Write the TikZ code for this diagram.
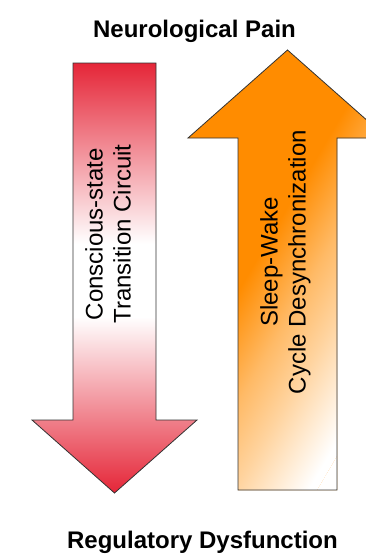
\documentclass[tikz,border=0pt]{standalone}
\usepackage{fontspec}
\setmainfont{Liberation Sans}
\definecolor{rc}{RGB}{229,38,56}
\definecolor{oc}{RGB}{255,140,0}
\colorlet{oca}{oc!60!white}
\colorlet{ocb}{oc!38!white}
\pgfdeclareverticalshading{redax}{100bp}{color(0bp)=(rc); color(25bp)=(rc); color(45.5bp)=(white); color(54bp)=(white); color(75bp)=(rc); color(100bp)=(rc)}
\pgfdeclarehorizontalshading{ofade}{100bp}{color(0bp)=(oc); color(25bp)=(oc); color(30bp)=(oc); color(45bp)=(oca); color(56bp)=(ocb); color(73bp)=(white); color(100bp)=(white)}
\tikzset{
  heading/.style={font=\fontsize{24}{28}\selectfont\bfseries, anchor=base, inner sep=0pt},
  lbl/.style={font=\fontsize{24}{28}\selectfont, align=center, inner sep=0pt, rotate=90},
  outline/.style={draw=black!80, line width=0.8pt, line join=miter}
}
\begin{document}
\begin{tikzpicture}[x=1pt, y=1pt]
\useasboundingbox (0,0) rectangle (366,-554);
\clip (0,0) rectangle (366,-554);
% red down arrow
\shadedraw[shading=redax, outline] (73,-63) -- (156,-63) -- (156,-420) -- (197,-420) -- (114.5,-493) -- (32,-420) -- (73,-420) -- cycle;
% orange up arrow
\begin{scope}
  \clip (287.5,-50) -- (387,-138) -- (337,-138) -- (337,-490) -- (238,-490) -- (238,-138) -- (188,-138) -- cycle;
  \fill[oc] (150,-30) rectangle (420,-520);
  \begin{scope}[transform canvas={shift={(240,-250)}, rotate=-30.4}]
    \shade[shading=ofade] (0,-700) rectangle (188,700);
    \fill[white] (188,-700) rectangle (900,700);
  \end{scope}
\end{scope}
\draw[outline] (287.5,-50) -- (387,-138) -- (337,-138) -- (337,-490) -- (238,-490) -- (238,-138) -- (188,-138) -- cycle;
% texts
\node[heading] (top) at (194.5,-37) {Neurological Pain};
\node[heading] (bottom) at (202.5,-548) {Regulatory Dysfunction};
\node[lbl] (lefttext) at (108,-234) {Conscious-state\\Transition Circuit};
\node[lbl] (righttext) at (285.3,-262) {Sleep-Wake\\Cycle Desynchronization};
\end{tikzpicture}
\end{document}
